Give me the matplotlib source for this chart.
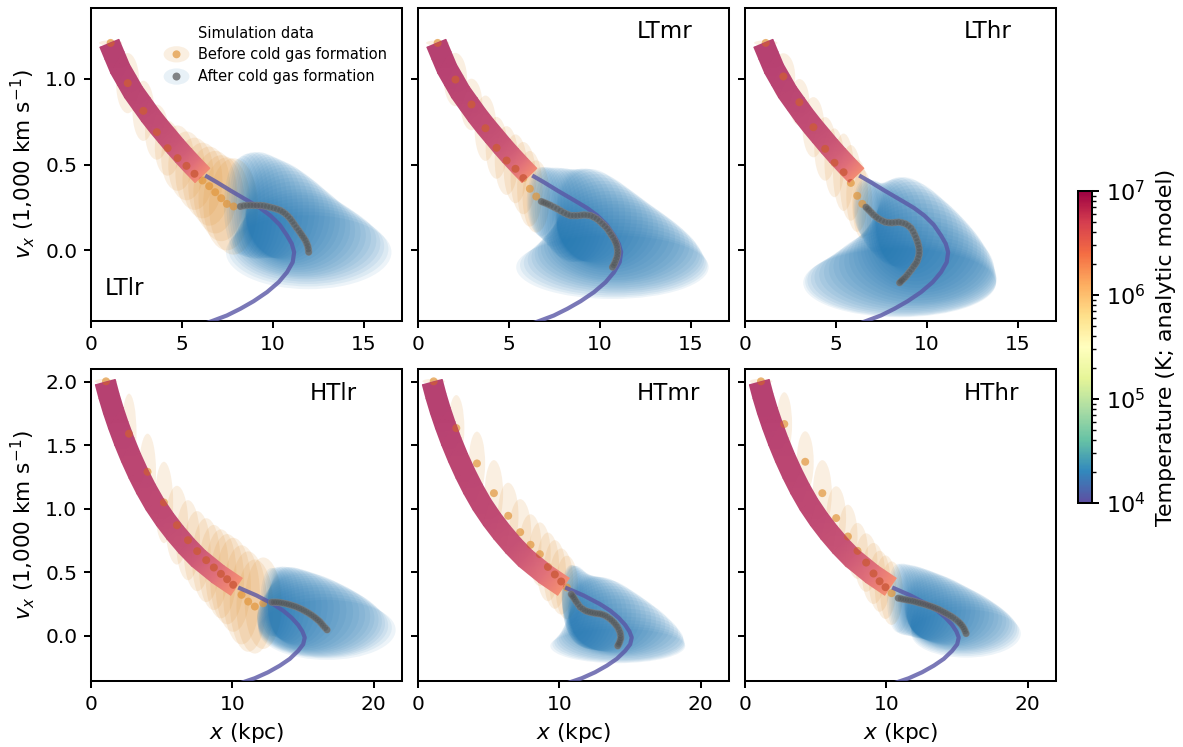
#!/usr/bin/env python3
import numpy as np
import matplotlib
matplotlib.use('Agg')
import matplotlib.pyplot as plt
from matplotlib.cm import ScalarMappable
from matplotlib.colors import ListedColormap, LogNorm
from matplotlib.patches import Ellipse, Polygon

# analytic model, hot part (band) and cold part (thin line)
lt_band_x = [1.01, 1.29, 1.60, 1.97, 2.33, 2.79, 3.25, 3.71, 4.17, 4.63, 5.09, 5.60, 6.13]
lt_band_y = [1.205, 1.134, 1.056, 0.988, 0.921, 0.853, 0.785, 0.723, 0.665, 0.607, 0.552, 0.494, 0.436]
lt_band_t = [1e7, 9.8e6, 9.6e6, 9.4e6, 9.1e6, 8.8e6, 8.5e6, 8.2e6, 7.8e6, 7.2e6, 6.2e6, 4.8e6, 2.8e6]
lt_line_x = [6.28, 6.92, 7.66, 8.76, 9.31, 9.86, 10.38, 10.78, 11.04, 11.17, 11.09, 10.78, 10.32, 9.68, 8.94, 8.21, 7.47, 6.74, 6.0]
lt_line_y = [0.436, 0.397, 0.349, 0.281, 0.246, 0.203, 0.149, 0.087, 0.039, -0.010, -0.068, -0.126, -0.184, -0.242, -0.295, -0.339, -0.378, -0.407, -0.436]

ht_band_x = [1.01, 1.27, 1.58, 1.93, 2.36, 2.83, 3.35, 3.89, 4.52, 5.23, 5.94, 6.76, 7.59, 9.00, 10.29]
ht_band_y = [1.997, 1.888, 1.773, 1.658, 1.529, 1.402, 1.275, 1.156, 1.033, 0.916, 0.813, 0.706, 0.611, 0.484, 0.387]
ht_band_t = [1e7, 1e7, 9.8e6, 9.6e6, 9.4e6, 9.2e6, 9e6, 8.8e6, 8.6e6, 8.4e6, 8e6, 7.5e6, 6.5e6, 4.6e6, 2.6e6]
ht_line_x = [10.41, 11.71, 12.89, 13.59, 14.18, 14.65, 14.96, 15.12, 15.01, 14.65, 14.06, 13.36, 12.53, 11.59, 10.88, 9.82]
ht_line_y = [0.381, 0.318, 0.249, 0.199, 0.144, 0.087, 0.034, -0.013, -0.066, -0.118, -0.181, -0.234, -0.286, -0.333, -0.360, -0.40]
line_t = 1.1e4

# simulation data, before cold gas formation: centres and half widths
ltlr_hot_x = [1.08, 2.02, 2.88, 3.62, 4.21, 4.76, 5.25, 5.69, 6.13, 6.50, 6.83, 7.16, 7.47, 7.84]
ltlr_hot_y = [1.207, 0.973, 0.812, 0.688, 0.595, 0.537, 0.492, 0.446, 0.407, 0.374, 0.339, 0.304, 0.271, 0.256]
ltlr_hot_dx = [0.64, 0.64, 0.60, 0.65, 0.70, 0.90, 1.00, 1.05, 1.10, 1.15, 1.20, 1.25, 1.30, 1.35]
ltlr_hot_dy = [0.015, 0.175, 0.175, 0.16, 0.16, 0.19, 0.20, 0.21, 0.22, 0.23, 0.24, 0.25, 0.27, 0.28]
ltmr_hot_x = [1.08, 2.06, 2.94, 3.71, 4.32, 4.87, 5.36, 5.79, 6.15, 6.50]
ltmr_hot_y = [1.207, 0.994, 0.849, 0.711, 0.597, 0.523, 0.475, 0.421, 0.359, 0.314]
ltmr_hot_dx = [0.64, 0.64, 0.60, 0.60, 0.60, 0.65, 0.65, 0.70, 0.70, 0.75]
ltmr_hot_dy = [0.015, 0.155, 0.15, 0.19, 0.18, 0.20, 0.20, 0.21, 0.22, 0.21]
lthr_hot_x = [1.14, 2.11, 2.99, 3.76, 4.41, 4.92, 5.42, 5.82, 6.17, 6.45]
lthr_hot_y = [1.207, 1.012, 0.862, 0.717, 0.591, 0.510, 0.455, 0.393, 0.318, 0.271]
lthr_hot_dx = [0.64, 0.65, 0.55, 0.60, 0.60, 0.55, 0.58, 0.60, 0.60, 0.55]
lthr_hot_dy = [0.015, 0.135, 0.135, 0.175, 0.185, 0.20, 0.225, 0.22, 0.21, 0.20]
htlr_hot_x = [1.06, 2.69, 4.00, 5.16, 6.08, 6.86, 7.51, 8.15, 8.69, 9.19, 9.63, 10.06, 10.65, 11.12, 11.59, 12.18]
htlr_hot_y = [2.003, 1.591, 1.291, 1.050, 0.871, 0.753, 0.667, 0.596, 0.538, 0.488, 0.446, 0.402, 0.323, 0.270, 0.231, 0.257]
htlr_hot_dx = [0.80, 0.53, 0.60, 0.65, 0.80, 0.85, 0.95, 1.00, 1.05, 1.10, 1.20, 1.25, 1.30, 1.30, 1.30, 1.30]
htlr_hot_dy = [0.02, 0.315, 0.30, 0.32, 0.31, 0.315, 0.315, 0.33, 0.335, 0.35, 0.355, 0.37, 0.39, 0.395, 0.37, 0.36]
htmr_hot_x = [1.11, 2.71, 4.17, 5.37, 6.38, 7.23, 7.96, 8.62, 9.19, 9.68, 10.13, 10.53]
htmr_hot_y = [2.003, 1.635, 1.357, 1.123, 0.945, 0.816, 0.717, 0.643, 0.543, 0.483, 0.428, 0.381]
htmr_hot_dx = [0.80, 0.57, 0.58, 0.65, 0.73, 0.78, 0.77, 0.77, 0.80, 0.80, 0.85, 0.80]
htmr_hot_dy = [0.02, 0.26, 0.25, 0.26, 0.26, 0.26, 0.24, 0.25, 0.27, 0.27, 0.26, 0.25]
hthr_hot_x = [1.13, 2.78, 4.26, 5.47, 6.45, 7.28, 7.96, 8.57, 9.09, 9.52, 9.94, 10.37]
hthr_hot_y = [2.003, 1.667, 1.370, 1.123, 0.927, 0.782, 0.669, 0.577, 0.491, 0.430, 0.383, 0.336]
hthr_hot_dx = [0.80, 0.55, 0.60, 0.67, 0.70, 0.68, 0.73, 0.80, 0.82, 0.76, 0.76, 0.80]
hthr_hot_dy = [0.02, 0.25, 0.24, 0.26, 0.25, 0.25, 0.22, 0.23, 0.24, 0.24, 0.25, 0.25]

# simulation data, after cold gas formation
ltlr_cold_x = [8.21, 8.40, 8.58, 8.76, 8.94, 9.12, 9.31, 9.50, 9.68, 9.86, 10.05, 10.23, 10.41, 10.55, 10.69, 10.83, 10.96, 11.07, 11.18, 11.30, 11.42, 11.52, 11.61, 11.70, 11.79, 11.86, 11.92, 11.95, 11.97]
ltlr_cold_y = [0.256, 0.260, 0.262, 0.263, 0.262, 0.262, 0.262, 0.260, 0.256, 0.251, 0.246, 0.240, 0.233, 0.224, 0.213, 0.199, 0.184, 0.168, 0.151, 0.133, 0.116, 0.101, 0.087, 0.073, 0.058, 0.041, 0.025, 0.008, -0.01]
ltlr_cold_dx = [0.9, 0.95, 1.0, 1.05, 1.1, 1.15, 1.2, 1.3, 1.4, 1.5, 1.6, 1.75, 1.9, 2.0, 2.15, 2.3, 2.45, 2.6, 2.8, 2.95, 3.1, 3.3, 3.5, 3.7, 3.9, 4.05, 4.2, 4.4, 4.55]
ltlr_cold_dy = [0.28, 0.29, 0.30, 0.305, 0.31, 0.31, 0.31, 0.305, 0.30, 0.295, 0.29, 0.285, 0.28, 0.275, 0.27, 0.265, 0.26, 0.255, 0.25, 0.245, 0.24, 0.237, 0.235, 0.23, 0.225, 0.222, 0.22, 0.217, 0.215]
ltmr_cold_x = [6.78, 6.90, 7.02, 7.15, 7.29, 7.47, 7.66, 7.85, 8.03, 8.21, 8.39, 8.58, 8.76, 8.95, 9.13, 9.31, 9.49, 9.66, 9.83, 9.99, 10.14, 10.28, 10.41, 10.52, 10.63, 10.73, 10.82, 10.88, 10.93, 10.96, 10.98, 10.97, 10.94, 10.88, 10.82, 10.76, 10.69]
ltmr_cold_y = [0.285, 0.280, 0.275, 0.269, 0.262, 0.252, 0.242, 0.230, 0.219, 0.210, 0.203, 0.203, 0.203, 0.205, 0.207, 0.205, 0.203, 0.194, 0.184, 0.170, 0.155, 0.141, 0.126, 0.109, 0.091, 0.075, 0.058, 0.044, 0.029, 0.012, -0.006, -0.022, -0.039, -0.055, -0.072, -0.085, -0.097]
ltmr_cold_dx = [0.8, 0.85, 0.9, 0.95, 1.0, 1.05, 1.1, 1.15, 1.2, 1.25, 1.3, 1.35, 1.4, 1.5, 1.6, 1.75, 1.9, 2.05, 2.2, 2.35, 2.5, 2.65, 2.8, 3.0, 3.2, 3.4, 3.6, 3.8, 4.0, 4.2, 4.4, 4.55, 4.7, 4.85, 5.0, 5.15, 5.29]
ltmr_cold_dy = [0.20, 0.205, 0.21, 0.215, 0.22, 0.23, 0.24, 0.25, 0.26, 0.265, 0.27, 0.27, 0.27, 0.27, 0.27, 0.27, 0.27, 0.265, 0.26, 0.255, 0.25, 0.245, 0.24, 0.237, 0.235, 0.232, 0.23, 0.225, 0.22, 0.215, 0.21, 0.205, 0.20, 0.195, 0.19, 0.187, 0.185]
lthr_cold_x = [6.65, 6.74, 6.83, 6.95, 7.07, 7.21, 7.35, 7.53, 7.71, 7.90, 8.08, 8.27, 8.45, 8.64, 8.82, 8.98, 9.13, 9.24, 9.33, 9.41, 9.48, 9.53, 9.57, 9.58, 9.57, 9.52, 9.46, 9.37, 9.27, 9.16, 9.04, 8.93, 8.82, 8.72, 8.63, 8.56, 8.50]
lthr_cold_y = [0.252, 0.243, 0.233, 0.220, 0.207, 0.195, 0.184, 0.174, 0.165, 0.162, 0.161, 0.163, 0.165, 0.161, 0.155, 0.144, 0.130, 0.111, 0.091, 0.072, 0.052, 0.033, 0.014, -0.006, -0.025, -0.045, -0.064, -0.079, -0.093, -0.110, -0.126, -0.141, -0.155, -0.165, -0.174, -0.181, -0.188]
lthr_cold_dx = [0.7, 0.73, 0.76, 0.8, 0.83, 0.86, 0.9, 0.95, 1.0, 1.05, 1.1, 1.2, 1.3, 1.45, 1.6, 1.8, 2.0, 2.2, 2.4, 2.6, 2.8, 3.0, 3.2, 3.4, 3.6, 3.8, 4.0, 4.2, 4.4, 4.55, 4.7, 4.85, 5.0, 5.1, 5.2, 5.25, 5.3]
lthr_cold_dy = [0.17, 0.175, 0.18, 0.19, 0.20, 0.205, 0.21, 0.22, 0.23, 0.24, 0.25, 0.255, 0.26, 0.265, 0.27, 0.27, 0.27, 0.27, 0.27, 0.27, 0.27, 0.265, 0.26, 0.255, 0.25, 0.245, 0.24, 0.235, 0.23, 0.225, 0.22, 0.215, 0.21, 0.207, 0.205, 0.202, 0.20]
htlr_cold_x = [12.77, 12.95, 13.12, 13.30, 13.47, 13.65, 13.83, 14.00, 14.18, 14.35, 14.53, 14.71, 14.89, 15.06, 15.24, 15.42, 15.59, 15.75, 15.90, 16.04, 16.18, 16.30, 16.42, 16.56, 16.70]
htlr_cold_y = [0.265, 0.265, 0.265, 0.263, 0.260, 0.256, 0.252, 0.247, 0.241, 0.235, 0.228, 0.219, 0.210, 0.200, 0.189, 0.177, 0.165, 0.152, 0.139, 0.126, 0.113, 0.097, 0.081, 0.064, 0.047]
htlr_cold_dx = [0.8, 0.85, 0.9, 0.95, 1.0, 1.15, 1.3, 1.5, 1.7, 1.95, 2.2, 2.45, 2.7, 3.0, 3.3, 3.55, 3.8, 4.0, 4.15, 4.3, 4.4, 4.5, 4.6, 4.72, 4.85]
htlr_cold_dy = [0.27, 0.27, 0.275, 0.28, 0.285, 0.29, 0.29, 0.295, 0.30, 0.30, 0.30, 0.30, 0.30, 0.30, 0.30, 0.295, 0.29, 0.285, 0.28, 0.275, 0.27, 0.26, 0.25, 0.24, 0.236]
htmr_cold_x = [10.84, 10.92, 11.00, 11.09, 11.19, 11.33, 11.47, 11.65, 11.83, 12.00, 12.18, 12.35, 12.53, 12.71, 12.89, 13.06, 13.24, 13.41, 13.59, 13.73, 13.87, 13.99, 14.11, 14.21, 14.30, 14.33, 14.35, 14.30, 14.25, 14.19, 14.13]
htmr_cold_y = [0.328, 0.316, 0.304, 0.287, 0.270, 0.248, 0.226, 0.212, 0.199, 0.192, 0.186, 0.182, 0.178, 0.175, 0.173, 0.167, 0.160, 0.148, 0.134, 0.120, 0.105, 0.088, 0.071, 0.049, 0.026, 0.004, -0.018, -0.035, -0.052, -0.066, -0.079]
htmr_cold_dx = [0.7, 0.75, 0.8, 0.9, 1.0, 1.1, 1.2, 1.3, 1.4, 1.5, 1.6, 1.75, 1.9, 2.05, 2.2, 2.35, 2.5, 2.7, 2.9, 3.1, 3.3, 3.5, 3.7, 3.9, 4.1, 4.25, 4.4, 4.5, 4.6, 4.68, 4.77]
htmr_cold_dy = [0.23, 0.24, 0.25, 0.265, 0.28, 0.285, 0.29, 0.29, 0.29, 0.29, 0.29, 0.29, 0.29, 0.29, 0.29, 0.285, 0.28, 0.27, 0.26, 0.25, 0.24, 0.23, 0.22, 0.205, 0.19, 0.18, 0.17, 0.16, 0.15, 0.143, 0.136]
hthr_cold_x = [10.84, 11.02, 11.19, 11.37, 11.54, 11.72, 11.90, 12.07, 12.25, 12.42, 12.60, 12.78, 12.96, 13.13, 13.31, 13.48, 13.66, 13.84, 14.02, 14.19, 14.37, 14.55, 14.72, 14.90, 15.08, 15.20, 15.31, 15.41, 15.50, 15.57, 15.64]
hthr_cold_y = [0.297, 0.293, 0.289, 0.285, 0.281, 0.277, 0.273, 0.268, 0.262, 0.257, 0.252, 0.246, 0.239, 0.233, 0.226, 0.218, 0.210, 0.200, 0.189, 0.179, 0.168, 0.156, 0.144, 0.129, 0.113, 0.100, 0.087, 0.071, 0.055, 0.037, 0.018]
hthr_cold_dx = [0.8, 0.85, 0.9, 0.95, 1.0, 1.05, 1.1, 1.2, 1.3, 1.4, 1.5, 1.6, 1.7, 1.85, 2.0, 2.15, 2.3, 2.45, 2.6, 2.75, 2.9, 3.05, 3.2, 3.3, 3.4, 3.5, 3.6, 3.68, 3.75, 3.81, 3.87]
hthr_cold_dy = [0.27, 0.275, 0.28, 0.28, 0.28, 0.28, 0.28, 0.28, 0.28, 0.277, 0.275, 0.272, 0.27, 0.267, 0.265, 0.262, 0.26, 0.255, 0.25, 0.245, 0.24, 0.235, 0.23, 0.225, 0.22, 0.215, 0.21, 0.205, 0.20, 0.195, 0.189]

hot_color = '#e1963c'
hot_on_band = '#cc5a3c'
cold_color = '#1f77b4'
hot_alpha = 0.15
cold_alpha = 0.08
norm = LogNorm(1e4, 1e7)
cmap = plt.get_cmap('Spectral_r')
# band is see-through in the original, alpha with gouraud leaves seams so blend on white
band_cmap = ListedColormap(cmap(np.linspace(0, 1, 256))[:, :3] * 0.75 + 0.25)
band_px = 10.3

plt.rcParams['font.size'] = 14.5
plt.rcParams['axes.linewidth'] = 1.45
plt.rcParams['xtick.major.width'] = 1.45
plt.rcParams['ytick.major.width'] = 1.45
plt.rcParams['xtick.major.size'] = 4.8
plt.rcParams['ytick.major.size'] = 4.8
plt.rcParams['xtick.major.pad'] = 5
plt.rcParams['ytick.major.pad'] = 5
plt.rcParams['ytick.minor.width'] = 1.0
plt.rcParams['ytick.minor.size'] = 2.6


def axesAt(fig, left, top, right, bottom):
    W, H = fig.get_size_inches() * fig.dpi
    return fig.add_axes([left / W, (H - bottom) / H, (right - left) / W, (bottom - top) / H])


def drawBand(ax, xs, ys, temps):
    # the hot part has a constant width on screen
    pts = ax.transData.transform(np.column_stack([xs, ys]))
    tx = np.gradient(pts[:, 0])
    ty = np.gradient(pts[:, 1])
    length = np.hypot(tx, ty)
    normal = np.column_stack([-ty / length, tx / length]) * band_px
    inv = ax.transData.inverted()
    side_a = inv.transform(pts + normal)
    side_b = inv.transform(pts - normal)
    X = np.column_stack([side_a[:, 0], side_b[:, 0]])
    Y = np.column_stack([side_a[:, 1], side_b[:, 1]])
    C = np.column_stack([temps, temps])
    ax.pcolormesh(X, Y, C, shading='gouraud', cmap=band_cmap, norm=norm, zorder=3)
    return Polygon(np.vstack([side_a, side_b[::-1]]), closed=True, transform=ax.transData)


def drawPanel(ax, name, xmax, ylim, band, line, hot, cold, label_pos):
    ax.set_xlim(0, xmax)
    ax.set_ylim(*ylim)
    for x, y, dx, dy in zip(*hot):
        ax.add_patch(Ellipse((x, y), 2 * dx, 2 * dy, facecolor=hot_color, edgecolor='none', alpha=hot_alpha, zorder=1))
    for x, y, dx, dy in zip(*cold):
        ax.add_patch(Ellipse((x, y), 2 * dx, 2 * dy, facecolor=cold_color, edgecolor='none', alpha=cold_alpha, zorder=2))
    ax.scatter(hot[0], hot[1], s=33, color=hot_color, alpha=0.7, edgecolor='none', zorder=2.5)
    band_shape = drawBand(ax, *band)
    # the dots sit under the see-through band, so they look red on it
    on_band = ax.scatter(hot[0], hot[1], s=33, color=hot_on_band, alpha=0.85, edgecolor='none', zorder=3.5)
    on_band.set_clip_path(band_shape)
    ax.plot(line[0], line[1], color=cmap(norm(line_t)), alpha=0.8, lw=3, zorder=4, solid_capstyle='butt')
    ax.plot(cold[0], cold[1], color='#808080', alpha=0.8, lw=5.2, zorder=5, solid_capstyle='round')
    ax.scatter(cold[0], cold[1], s=20, color='#444444', alpha=0.3, edgecolor='none', zorder=5)
    ax.text(label_pos[0], label_pos[1], name, transform=ax.transAxes, fontsize=16.5, va='center', ha='left', zorder=6)


def drawLegend(ax):
    ax.text(0.343, 0.919, 'Simulation data', transform=ax.transAxes, fontsize=10.5, va='center')
    ax.text(0.343, 0.852, 'Before cold gas formation', transform=ax.transAxes, fontsize=10.5, va='center')
    ax.text(0.343, 0.781, 'After cold gas formation', transform=ax.transAxes, fontsize=10.5, va='center')
    for y, color, alpha, dot in [(0.852, hot_color, hot_alpha, hot_color), (0.781, cold_color, 0.1, '#555555')]:
        ax.add_patch(Ellipse((0.275, y), 0.083, 0.052, transform=ax.transAxes, facecolor=color, edgecolor='none', alpha=alpha))
        ax.scatter([0.275], [y], s=33, color=dot, alpha=0.7, edgecolor='none', transform=ax.transAxes)


fig = plt.figure(figsize=(11.83, 7.47), dpi=100)

lt_ylim = (-0.41, 1.41)
ht_ylim = (-0.355, 2.1)
lt_band = (lt_band_x, lt_band_y, lt_band_t)
ht_band = (ht_band_x, ht_band_y, ht_band_t)
lt_line = (lt_line_x, lt_line_y)
ht_line = (ht_line_x, ht_line_y)

ax1 = axesAt(fig, 91, 8, 402, 321)
ax2 = axesAt(fig, 418, 8, 729, 321)
ax3 = axesAt(fig, 745, 8, 1056, 321)
ax4 = axesAt(fig, 91, 369, 402, 681)
ax5 = axesAt(fig, 418, 369, 729, 681)
ax6 = axesAt(fig, 745, 369, 1056, 681)

drawPanel(ax1, 'LTlr', 17.1, lt_ylim, lt_band, lt_line,
          (ltlr_hot_x, ltlr_hot_y, ltlr_hot_dx, ltlr_hot_dy),
          (ltlr_cold_x, ltlr_cold_y, ltlr_cold_dx, ltlr_cold_dy), (0.045, 0.105))
drawPanel(ax2, 'LTmr', 17.1, lt_ylim, lt_band, lt_line,
          (ltmr_hot_x, ltmr_hot_y, ltmr_hot_dx, ltmr_hot_dy),
          (ltmr_cold_x, ltmr_cold_y, ltmr_cold_dx, ltmr_cold_dy), (0.704, 0.926))
drawPanel(ax3, 'LThr', 17.1, lt_ylim, lt_band, lt_line,
          (lthr_hot_x, lthr_hot_y, lthr_hot_dx, lthr_hot_dy),
          (lthr_cold_x, lthr_cold_y, lthr_cold_dx, lthr_cold_dy), (0.704, 0.926))
drawPanel(ax4, 'HTlr', 22, ht_ylim, ht_band, ht_line,
          (htlr_hot_x, htlr_hot_y, htlr_hot_dx, htlr_hot_dy),
          (htlr_cold_x, htlr_cold_y, htlr_cold_dx, htlr_cold_dy), (0.704, 0.923))
drawPanel(ax5, 'HTmr', 22, ht_ylim, ht_band, ht_line,
          (htmr_hot_x, htmr_hot_y, htmr_hot_dx, htmr_hot_dy),
          (htmr_cold_x, htmr_cold_y, htmr_cold_dx, htmr_cold_dy), (0.704, 0.923))
drawPanel(ax6, 'HThr', 22, ht_ylim, ht_band, ht_line,
          (hthr_hot_x, hthr_hot_y, hthr_hot_dx, hthr_hot_dy),
          (hthr_cold_x, hthr_cold_y, hthr_cold_dx, hthr_cold_dy), (0.704, 0.923))
drawLegend(ax1)

for ax in [ax1, ax2, ax3]:
    ax.set_xticks([0, 5, 10, 15])
    ax.set_yticks([0.0, 0.5, 1.0])
for ax in [ax4, ax5, ax6]:
    ax.set_xticks([0, 10, 20])
    ax.set_yticks([0.0, 0.5, 1.0, 1.5, 2.0])
    ax.set_xlabel(r'$x$ (kpc)', fontsize=15.6, labelpad=5.5)
for ax in [ax2, ax3, ax5, ax6]:
    ax.tick_params(axis='y', labelleft=False)
for ax in [ax1, ax4]:
    ax.set_ylabel(r'$v_x$ (1,000 km s$^{-1}$)', fontsize=15.6)
    ax.yaxis.set_label_coords(-0.174, 0.5)

cax = axesAt(fig, 1078, 191, 1092, 503)
cbar = fig.colorbar(ScalarMappable(norm=norm, cmap=cmap), cax=cax)
cbar.set_label('Temperature (K; analytic model)', fontsize=15.9, labelpad=8)
cbar.ax.tick_params(labelsize=16)

fig.savefig('out.png', dpi=100)
